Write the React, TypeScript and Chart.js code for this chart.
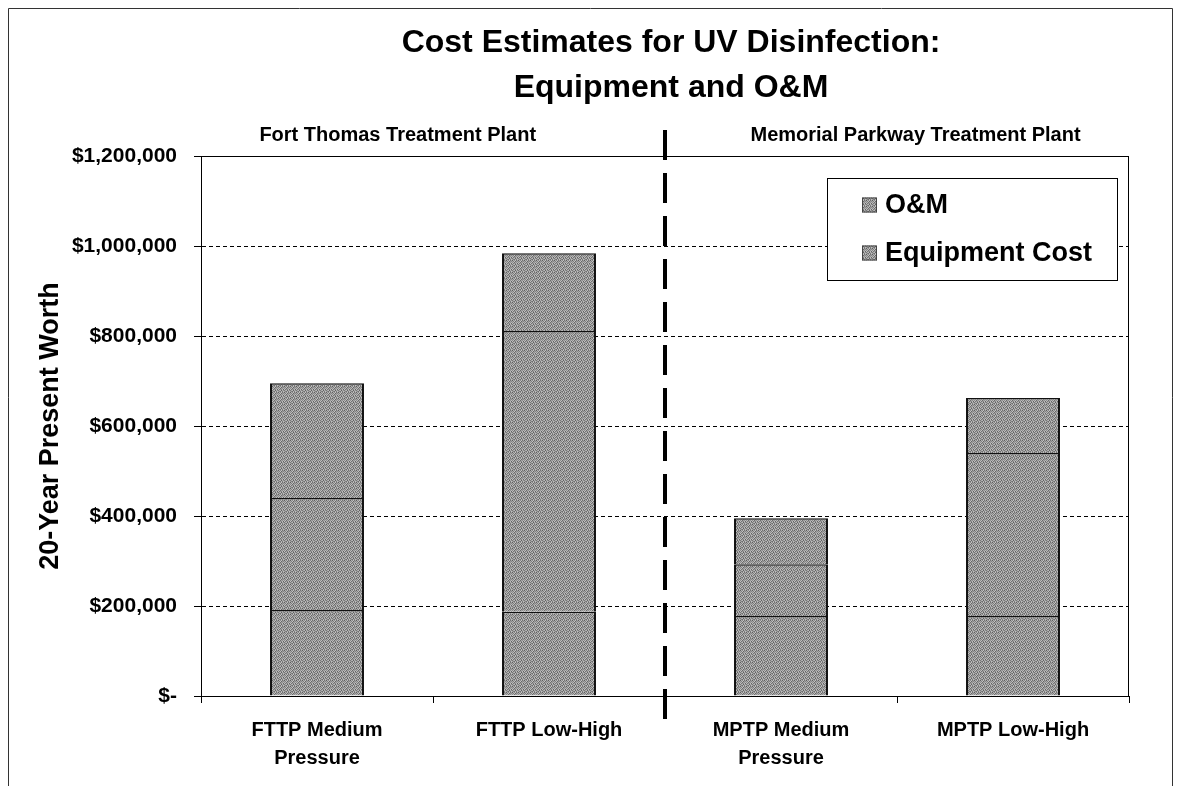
import React, { useEffect, useRef } from "react";
import { Chart, registerables } from "chart.js";

Chart.register(...registerables);

// ---- data ----
const categories: string[][] = [
  ["FTTP Medium", "Pressure"],
  ["FTTP Low-High"],
  ["MPTP Medium", "Pressure"],
  ["MPTP Low-High"],
];
// lowest stacked segment (thin divider visible in each bar, no legend entry)
const baseSegment: number[] = [191000, 187000, 178000, 178000];
const equipmentCost: number[] = [249000, 624000, 115000, 362000];
const omCost: number[] = [255000, 173000, 102000, 122000];

const titleLines: string[] = ["Cost Estimates for UV Disinfection:", "Equipment and O&M"];
const plantLabels: string[] = ["Fort Thomas Treatment Plant", "Memorial Parkway Treatment Plant"];
const yAxisTitle = "20-Year Present Worth";
const legendLabels: string[] = ["O&M", "Equipment Cost"];
const yMin = 0;
const yMax = 1200000;
const yStep = 200000;

const FONT = "'Liberation Sans', Arial, Helvetica, sans-serif";

const PAT = [
  [0x5e, 0xb2, 0x8a, 0xc0, 0x72, 0xa4],
  [0xa8, 0x7e, 0xc4, 0x66, 0x9c, 0x86],
  [0x8c, 0xbc, 0x6c, 0xa6, 0x90, 0xb8],
  [0xc2, 0x74, 0x9a, 0x84, 0xbe, 0x62],
  [0x78, 0xaa, 0xba, 0x60, 0xae, 0x8e],
  [0xa0, 0x82, 0x6e, 0xb6, 0x7a, 0xc0],
];

function makePattern(): CanvasPattern | string {
  const c = document.createElement("canvas");
  c.width = PAT[0].length;
  c.height = PAT.length;
  const g = c.getContext("2d");
  if (!g) return "#999";
  for (let r = 0; r < PAT.length; r++) {
    for (let k = 0; k < PAT[r].length; k++) {
      const v = PAT[r][k];
      g.fillStyle = `rgb(${v},${v},${v})`;
      g.fillRect(k, r, 1, 1);
    }
  }
  const p = g.createPattern(c, "repeat");
  return p || "#999";
}

function fmtMoney(v: number): string {
  if (v === 0) return "$-";
  return "$" + v.toLocaleString("en-US");
}

export default function App() {
  const ref = useRef<HTMLCanvasElement | null>(null);

  useEffect(() => {
    if (!ref.current) return;
    const pattern = makePattern();
    const W = 1165;
    const H = 778;

    const decor = {
      id: "decor",
      afterDraw(chart: any) {
        const { ctx, chartArea: a, scales } = chart;
        const x = scales.x;
        ctx.save();
        ctx.setLineDash([]);
        ctx.strokeStyle = "#000";
        ctx.lineWidth = 1;
        // plot border
        ctx.strokeRect(a.left + 0.5, a.top + 0.5, a.right - a.left - 1, a.bottom - a.top);
        // outer frame (top, left, right)
        ctx.strokeStyle = "#333";
        ctx.beginPath();
        ctx.moveTo(0.5, H);
        ctx.lineTo(0.5, 0.5);
        ctx.lineTo(W - 0.5, 0.5);
        ctx.lineTo(W - 0.5, H);
        ctx.stroke();

        // titles
        ctx.fillStyle = "#000";
        ctx.textAlign = "center";
        ctx.textBaseline = "middle";
        const cx = (a.left + a.right) / 2 + 6;
        ctx.font = `bold 32px ${FONT}`;
        ctx.fillText(titleLines[0], cx, 35);
        ctx.fillText(titleLines[1], cx, 80);
        const w = a.right - a.left;
        ctx.font = `bold 20px ${FONT}`;
        ctx.fillText(plantLabels[0], a.left + 0.212 * w, 127);
        ctx.fillText(plantLabels[1], a.left + 0.77 * w, 127);

        // separator
        const sx = (x.getPixelForValue(1) + x.getPixelForValue(2)) / 2;
        ctx.strokeStyle = "#000";
        ctx.lineWidth = 4;
        ctx.setLineDash([30, 13]);
        ctx.beginPath();
        ctx.moveTo(sx, 122);
        ctx.lineTo(sx, 719);
        ctx.stroke();
        ctx.setLineDash([]);

        // legend
        const lx = 819, ly = 170, lw = 290, lh = 102;
        ctx.fillStyle = "#fff";
        ctx.fillRect(lx, ly, lw, lh);
        ctx.strokeStyle = "#000";
        ctx.lineWidth = 1;
        ctx.strokeRect(lx + 0.5, ly + 0.5, lw, lh);
        const rows = [197, 245];
        ctx.font = `bold 27px ${FONT}`;
        ctx.textAlign = "left";
        legendLabels.forEach((lab, i) => {
          const yy = rows[i];
          ctx.fillStyle = pattern as any;
          ctx.fillRect(854, yy - 7.5, 15, 15);
          ctx.strokeStyle = "#444";
          ctx.strokeRect(854.5, yy - 7, 14, 14);
          ctx.fillStyle = "#000";
          ctx.fillText(lab, 877, yy + 1);
        });
        ctx.restore();
      },
    };

    const barCommon = {
      backgroundColor: pattern as any,
      borderColor: "#111",
      borderWidth: { top: 1.5, left: 2, right: 2, bottom: 0 },
      borderSkipped: false as any,
      barPercentage: 0.405,
      categoryPercentage: 1.0,
    };

    const chart = new Chart(ref.current, {
      type: "bar",
      data: {
        labels: categories,
        datasets: [
          { label: "Base", data: baseSegment, ...barCommon },
          { label: legendLabels[1], data: equipmentCost, ...barCommon },
          { label: legendLabels[0], data: omCost, ...barCommon },
        ],
      },
      options: {
        responsive: false,
        animation: false,
        layout: { padding: { top: 148, right: 44, left: 0, bottom: 0 } },
        plugins: {
          legend: { display: false },
          title: { display: false },
          tooltip: { enabled: false },
        },
        scales: {
          x: {
            stacked: true,
            afterFit(scale: any) {
              scale.height = 90;
            },
            grid: {
              offset: true,
              drawOnChartArea: false,
              drawTicks: true,
              tickLength: 7,
              color: "#000",
              tickColor: "#000",
            },
            border: { display: true, color: "#000", width: 1 },
            ticks: {
              color: "#000",
              padding: 13,
              maxRotation: 0,
              autoSkip: false,
              font: { family: FONT, size: 20, weight: "bold", lineHeight: 1.4 },
            },
          },
          y: {
            stacked: true,
            min: yMin,
            max: yMax,
            afterFit(scale: any) {
              scale.width = 193;
            },
            ticks: {
              stepSize: yStep,
              color: "#000",
              padding: 17,
              font: { family: FONT, size: 21, weight: "bold" },
              callback: (v: any) => fmtMoney(Number(v)),
            },
            grid: {
              color: "#000",
              lineWidth: 1,
              tickLength: 7,
              tickColor: "#000",
              tickBorderDash: [],
            },
            border: { display: true, color: "#000", width: 1, dash: [4, 3] },
            title: {
              display: true,
              text: yAxisTitle,
              color: "#000",
              padding: { top: 26, bottom: 0 },
              font: { family: FONT, size: 27, weight: "bold" },
            },
          },
        },
      },
      plugins: [decor],
    });

    return () => chart.destroy();
  }, []);

  return (
    <div style={{ width: 1165, height: 778 }}>
      <canvas ref={ref} width={1165} height={778} style={{ display: "block", width: 1165, height: 778 }} />
    </div>
  );
}
